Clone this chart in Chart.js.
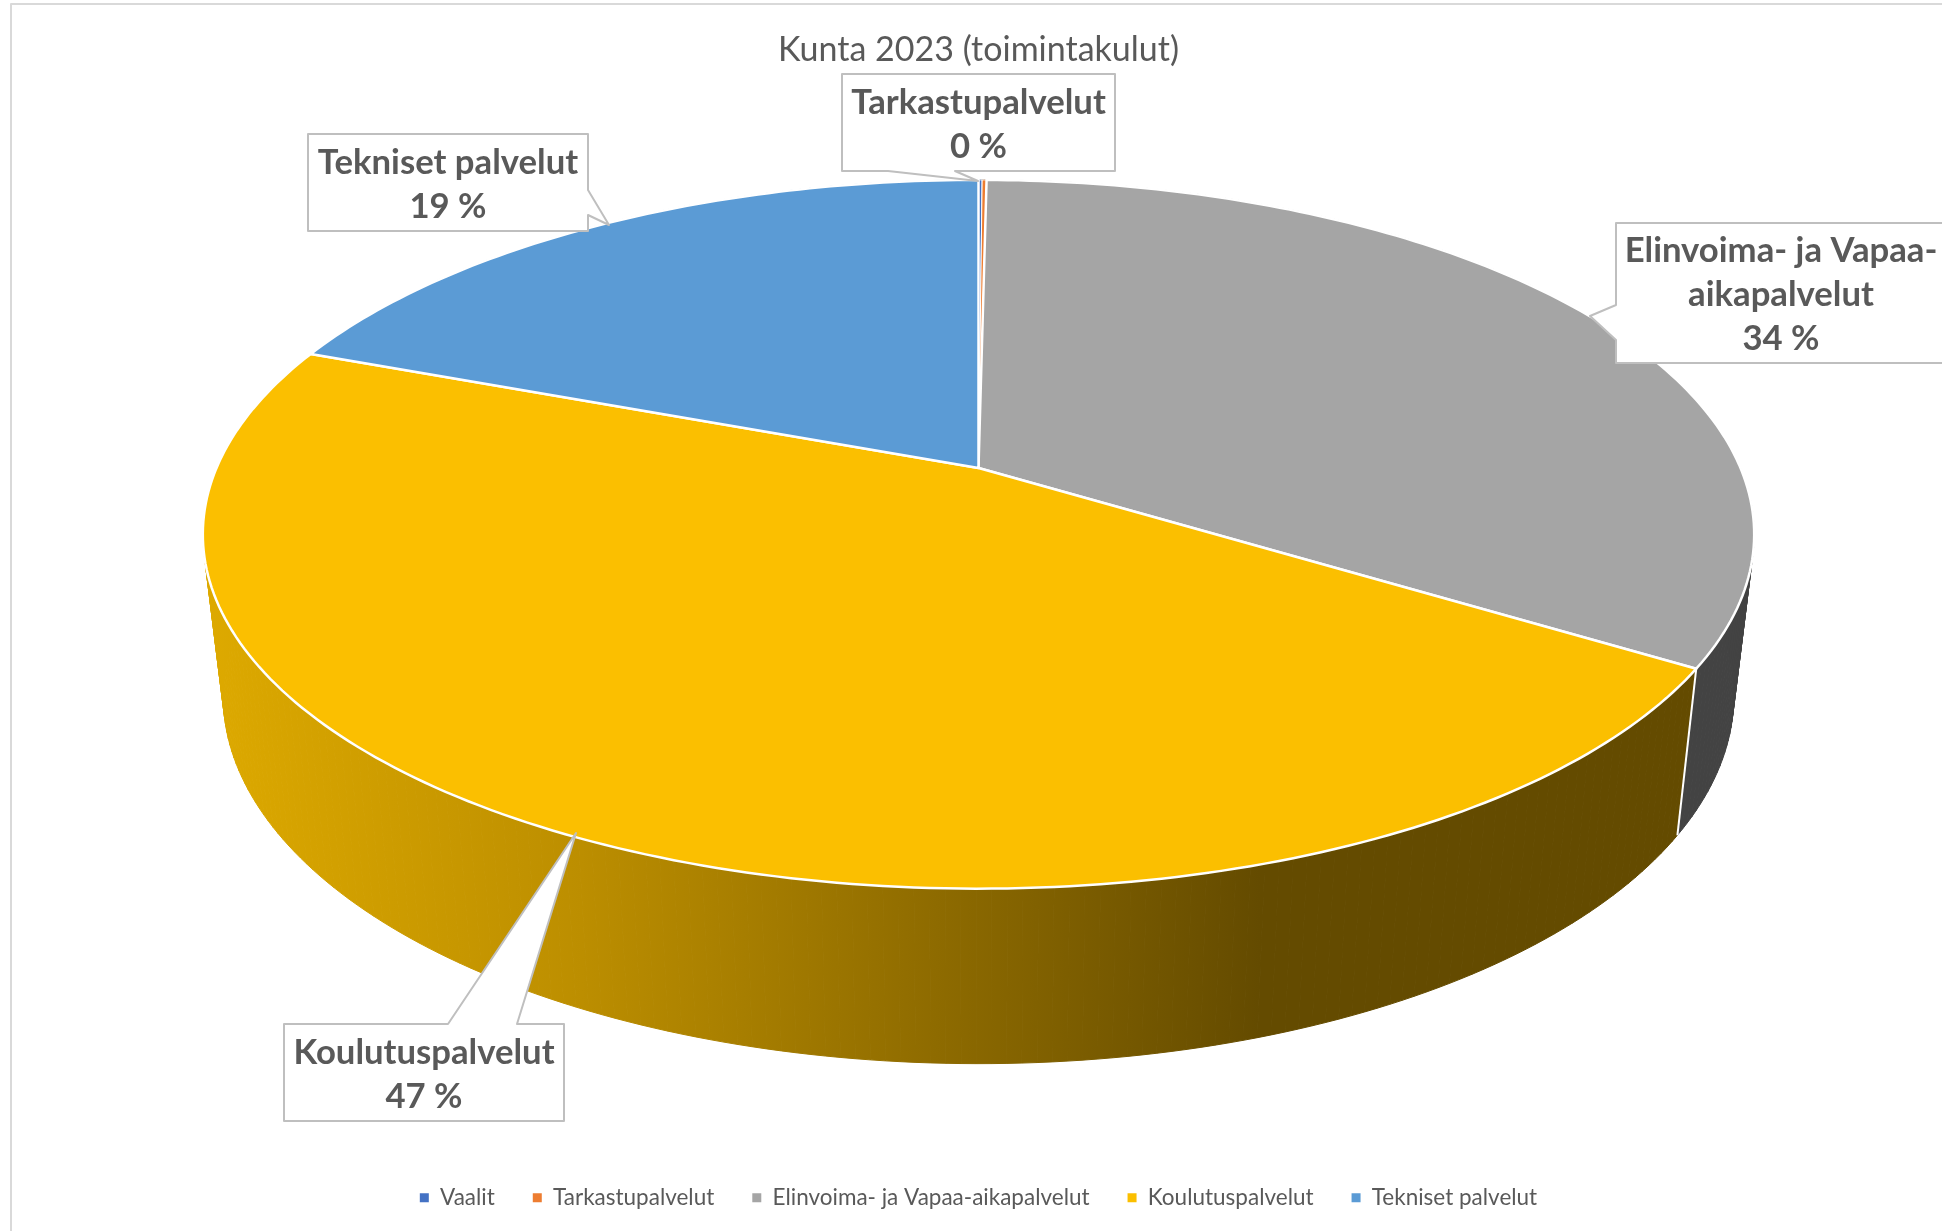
<!DOCTYPE html>
<html>
<head>
<meta charset="utf-8">
<title>Kunta 2023 (toimintakulut)</title>
<script src="https://cdn.jsdelivr.net/npm/chart.js@4/dist/chart.umd.min.js"></script>
<style>
  html, body { margin: 0; padding: 0; background: #fff; }
  canvas { display: block; }
</style>
</head>
<body>
<canvas id="kaavio" width="1942" height="1231"></canvas>
<script>
var categories = ['Vaalit', 'Tarkastupalvelut', 'Elinvoima- ja Vapaa-aikapalvelut', 'Koulutuspalvelut', 'Tekniset palvelut'];
var shares = [0.09, 0.11, 33.65, 46.9, 19.2];
var sliceColors = ['#4472C4', '#ED7D31', '#A5A5A5', '#FBBF00', '#5B9BD5'];
var wallColors = ['#264478', '#843C0C', '#434343', null, '#2E75B6'];
var calloutLines = [null, ['Tarkastupalvelut'], ['Elinvoima- ja Vapaa-', 'aikapalvelut'], ['Koulutuspalvelut'], ['Tekniset palvelut']];

// box = left, top, right, bottom; tail = base point, tip, base point
var calloutShapes = [
  null,
  { box: [842, 74, 1115, 171], tail: [[955, 171], [978, 181], [888, 171]], side: 'bottom' },
  { box: [1616, 223, 1946, 363], tail: [[1616, 305], [1590, 316], [1616, 340]], side: 'left' },
  { box: [284, 1024, 564, 1121], tail: [[448, 1024], [576, 833], [517, 1024]], side: 'top' },
  { box: [308, 134, 588, 231], tail: [[588, 190], [609, 225], [588, 215]], side: 'right' }
];

// perspective of the pie: top disc and the lower rim
var tilt = 0.187;
var topCenterY = 468, topRx = 762, topRy = 342;
var rimCenterY = 627, rimRx = 742, rimRy = 355;

function project(angle, cx, cy, rx, ry) {
  var u = Math.cos(angle), v = -Math.sin(angle);
  var w = 1 + tilt * v;
  return [cx + rx * u / w, cy - ry * v / w];
}

function rimPoints(arc, cy, rx, ry) {
  var pts = [], steps = Math.max(2, Math.ceil((arc.endAngle - arc.startAngle) * 60));
  for (var i = 0; i <= steps; i++) {
    var a = arc.startAngle + (arc.endAngle - arc.startAngle) * i / steps;
    pts.push(project(a, arc.x, cy, rx, ry));
  }
  return pts;
}

function tracePath(ctx, pts) {
  ctx.beginPath();
  pts.forEach(function (p, i) { i ? ctx.lineTo(p[0], p[1]) : ctx.moveTo(p[0], p[1]); });
  ctx.closePath();
}

function drawCallout(ctx, shape, lines, percent) {
  var b = shape.box, t = shape.tail, pts;
  if (shape.side === 'bottom') pts = [[b[0], b[1]], [b[2], b[1]], [b[2], b[3]], t[0], t[1], t[2], [b[0], b[3]]];
  if (shape.side === 'left') pts = [[b[0], b[1]], [b[2], b[1]], [b[2], b[3]], [b[0], b[3]], t[2], t[1], t[0]];
  if (shape.side === 'top') pts = [[b[0], b[1]], t[0], t[1], t[2], [b[2], b[1]], [b[2], b[3]], [b[0], b[3]]];
  if (shape.side === 'right') pts = [[b[0], b[1]], [b[2], b[1]], t[0], t[1], t[2], [b[2], b[3]], [b[0], b[3]]];
  tracePath(ctx, pts);
  ctx.fillStyle = '#fff';
  ctx.fill();
  ctx.lineWidth = 2;
  ctx.strokeStyle = '#BFBFBF';
  ctx.stroke();

  var rows = lines.concat([percent]);
  var lineH = 44;
  var midX = (b[0] + b[2]) / 2, midY = (b[1] + b[3]) / 2 + 2;
  ctx.fillStyle = '#595959';
  ctx.font = 'bold 34.7px Lato';
  ctx.textAlign = 'center';
  ctx.textBaseline = 'middle';
  rows.forEach(function (row, i) {
    ctx.fillText(row, midX, midY + (i - (rows.length - 1) / 2) * lineH);
  });
}

var pie3d = {
  id: 'pie3d',
  beforeDatasetsDraw: function (chart) {
    var ctx = chart.ctx, arcs = chart.getDatasetMeta(0).data;
    ctx.save();
    ctx.lineJoin = 'round';

    // side wall first, the top disc covers the back of it
    var shade = ctx.createLinearGradient(200, 0, 1260, 0);
    shade.addColorStop(0, '#DEAA00');
    shade.addColorStop(0.36, '#BC8E00');
    shade.addColorStop(1, '#644B00');
    arcs.forEach(function (arc, i) {
      var upper = rimPoints(arc, topCenterY, topRx, topRy);
      var lower = rimPoints(arc, rimCenterY, rimRx, rimRy);
      ctx.fillStyle = ctx.strokeStyle = wallColors[i] || shade;
      ctx.lineWidth = 1;
      for (var s = 0; s < upper.length - 1; s++) {
        tracePath(ctx, [upper[s], upper[s + 1], lower[s + 1], lower[s]]);
        ctx.fill();
        ctx.stroke();
      }
    });
    // white seams where two walls meet
    arcs.forEach(function (arc) {
      var a = project(arc.startAngle, arc.x, topCenterY, topRx, topRy);
      var b = project(arc.startAngle, arc.x, rimCenterY, rimRx, rimRy);
      ctx.beginPath();
      ctx.moveTo(a[0], a[1]);
      ctx.lineTo(b[0], b[1]);
      ctx.lineWidth = 2;
      ctx.strokeStyle = '#fff';
      ctx.stroke();
    });

    arcs.forEach(function (arc, i) {
      var rim = rimPoints(arc, topCenterY, topRx, topRy);
      tracePath(ctx, [[arc.x, topCenterY]].concat(rim));
      ctx.fillStyle = sliceColors[i];
      ctx.fill();
      ctx.lineWidth = i < 2 ? 1 : 2.5;
      ctx.strokeStyle = '#fff';
      ctx.stroke();
    });

    var total = shares.reduce(function (s, x) { return s + x; }, 0);
    calloutShapes.forEach(function (shape, i) {
      if (shape) drawCallout(ctx, shape, calloutLines[i], Math.round(shares[i] / total * 100) + ' %');
    });

    // chart frame, top and left edges
    ctx.strokeStyle = '#D9D9D9';
    ctx.lineWidth = 2;
    ctx.beginPath();
    ctx.moveTo(11, 1231);
    ctx.lineTo(11, 4);
    ctx.lineTo(1942, 4);
    ctx.stroke();

    ctx.restore();
    return false;
  }
};

new Chart(document.getElementById('kaavio'), {
  type: 'pie',
  data: {
    labels: categories,
    datasets: [{ data: shares, backgroundColor: sliceColors, borderColor: '#fff', borderWidth: 0 }]
  },
  plugins: [pie3d],
  options: {
    responsive: false,
    animation: false,
    layout: { padding: { left: 15, top: 30, bottom: 12 } },
    plugins: {
      tooltip: { enabled: false },
      title: {
        display: true,
        text: 'Kunta 2023 (toimintakulut)',
        color: '#595959',
        font: { family: 'Lato', size: 34, weight: 'normal' },
        padding: 0
      },
      legend: {
        position: 'bottom',
        labels: {
          boxWidth: 9,
          boxHeight: 9,
          padding: 38,
          color: '#595959',
          font: { family: 'Lato', size: 22.5 }
        }
      }
    }
  }
});
</script>
</body>
</html>
